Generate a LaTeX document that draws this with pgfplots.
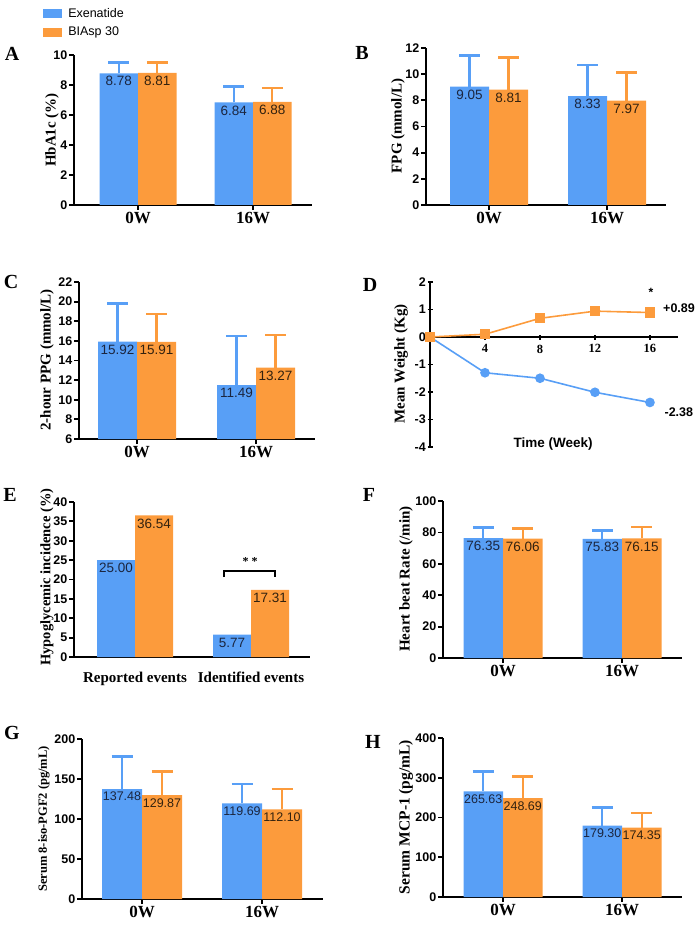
\documentclass[border=0pt]{standalone}
\usepackage{fontspec}
\setmainfont{Liberation Serif}
\setsansfont{Liberation Sans}
\usepackage{pgfplots}
\pgfplotsset{compat=1.18}
\definecolor{cb}{RGB}{88,159,246}
\definecolor{co}{RGB}{252,155,60}
\definecolor{tb}{HTML}{1B2640}
\definecolor{to}{HTML}{33220F}
\newcommand{\fs}[1]{\fontsize{#1}{#1}\selectfont}

\pgfplotsset{
  base/.style={scale only axis, axis line style={line width=1.8pt,-},
    tick style={line width=1.8pt,black}, tick align=outside, major tick length=5pt,
    yticklabel style={font=\sffamily\bfseries\fs{12.5}, inner sep=1.5pt},
    xticklabel style={font=\bfseries\fs{17}, inner sep=2pt},
    /pgf/number format/assume math mode=true},
  barax/.style={base, axis x line*=bottom, axis y line*=left, xmin=0},
  bblue/.style={ybar, bar width=#1pt, bar shift=0pt, fill=cb, draw=none,
    nodes near coords, point meta=explicit symbolic,
    every node near coord/.append style={anchor=north, font=\sffamily\fs{13.5}, text=tb, inner sep=3pt},
    legend image code/.code={\fill[cb] (0pt,-4.5pt) rectangle (19pt,4.5pt);}},
  borange/.style={ybar, bar width=#1pt, bar shift=0pt, fill=co, draw=none,
    nodes near coords, point meta=explicit symbolic,
    every node near coord/.append style={anchor=north, font=\sffamily\fs{13.5}, text=to, inner sep=3pt},
    legend image code/.code={\fill[co] (0pt,-4.5pt) rectangle (19pt,4.5pt);}},
  eb/.style={error bars/y dir=plus, error bars/y explicit,
    error bars/error bar style={line width=2.4pt, #1},
    error bars/error mark options={rotate=90, line width=2.4pt, #1, mark size=10.5pt}},
}

\begin{document}
\begin{tikzpicture}
\useasboundingbox (0,0) rectangle (700pt,-933pt);

% ---------- A ----------
\begin{axis}[barax, at={(74pt,-205pt)}, anchor=south west, width=238pt, height=150pt,
  xmax=238, ymin=0, ymax=10, ytick={0,2,...,10}, xtick={64,179}, xticklabels={0W,16W},
  legend style={at={(axis description cs:-0.13,1.325)}, anchor=north west, draw=none, fill=none,
    inner sep=0pt, font=\sffamily\fs{12.5}, row sep=4pt, column sep=4pt, nodes={inner sep=2pt}},
  legend cell align=left]
\addplot[bblue=38.5, eb=cb] table[x=x,y=y,y error plus=e,meta=l] {
x y e l
44.75 8.78 0.73 8.78
159.75 6.84 1.05 6.84
};
\addlegendentry{Exenatide}
\addplot[borange=38.5, eb=co] table[x=x,y=y,y error plus=e,meta=l] {
x y e l
83.25 8.81 0.70 8.81
198.25 6.88 0.90 6.88
};
\addlegendentry{BIAsp 30}
\end{axis}

% ---------- B ----------
\begin{axis}[barax, at={(426pt,-205pt)}, anchor=south west, width=240pt, height=157pt,
  xmax=240, ymin=0, ymax=12, ytick={0,2,...,12}, xtick={63,181}, xticklabels={0W,16W}]
\addplot[bblue=39, eb=cb] table[x=x,y=y,y error plus=e,meta=l] {
x y e l
43.5 9.05 2.37 9.05
161.5 8.33 2.35 8.33
};
\addplot[borange=39, eb=co] table[x=x,y=y,y error plus=e,meta=l] {
x y e l
82.5 8.81 2.45 8.81
200.5 7.97 2.17 7.97
};
\end{axis}

% ---------- C ----------
\begin{axis}[barax, at={(79pt,-439pt)}, anchor=south west, width=236pt, height=157pt,
  xmax=236, ymin=6, ymax=22, ytick={6,8,...,22}, xtick={58,177}, xticklabels={0W,16W}]
\addplot[bblue=39, eb=cb] table[x=x,y=y,y error plus=e,meta=l] {
x y e l
38.5 15.92 3.88 15.92
157.5 11.49 5.00 11.49
};
\addplot[borange=39, eb=co] table[x=x,y=y,y error plus=e,meta=l] {
x y e l
77.5 15.91 2.81 15.91
196.5 13.27 3.32 13.27
};
\end{axis}

% ---------- D ----------
\begin{axis}[base, at={(430pt,-447pt)}, anchor=south west, width=248pt, height=165pt,
  xmin=0, xmax=18.04, ymin=-4, ymax=2, axis x line=middle, axis y line=left,
  axis line style={line width=1.8pt,-},
  every inner x axis line/.append style={-}, every outer y axis line/.append style={-},
  xtick={4,8,12,16}, ytick={-4,-3,...,2},
  xticklabel style={font=\bfseries\fs{12.5}, yshift=-3pt}, clip=false]
\addplot[cb, line width=1.6pt, mark=*, mark size=4pt, mark options={fill=cb, draw=cb}]
  coordinates {(0,0) (4,-1.30) (8,-1.50) (12,-2.01) (16,-2.38)};
\addplot[co, line width=1.6pt, mark=square*, mark size=4.3pt, mark options={fill=co, draw=co}]
  coordinates {(0,0) (4,0.10) (8,0.68) (12,0.94) (16,0.89)};
\node[font=\sffamily\bfseries\fs{12.5}, anchor=west, inner sep=0pt] at (axis cs:16.95,1.04) {+0.89};
\node[font=\sffamily\bfseries\fs{12.5}, anchor=west, inner sep=0pt] at (axis cs:17.05,-2.74) {-2.38};
\node[font=\sffamily\bfseries\fs{12}, inner sep=0pt] at (axis cs:16.07,1.62) {*};
\node[font=\sffamily\bfseries\fs{13.5}, inner sep=0pt] at (axis cs:8.95,-3.90) {Time (Week)};
\end{axis}

% ---------- E ----------
\begin{axis}[barax, at={(74pt,-657pt)}, anchor=south west, width=236pt, height=155pt,
  xmax=236, ymin=0, ymax=40, ytick={0,5,...,40}, xtick={61,177},
  xticklabels={Reported events,Identified events}, x tick style={draw=none},
  xticklabel style={font=\bfseries\fs{15}, yshift=-8pt}, clip=false]
\addplot[bblue=38] table[x=x,y=y,meta=l] {
x y l
42 25.00 25.00
158 5.77 5.77
};
\addplot[borange=38] table[x=x,y=y,meta=l] {
x y l
80 36.54 36.54
196 17.31 17.31
};
\draw[line width=2pt] (axis cs:150,20.6) -- (axis cs:150,22.2) -- (axis cs:201,22.2) -- (axis cs:201,20.6);
\node[font=\bfseries\fs{12}, inner sep=0pt] at (axis cs:176,24.6) {* *};
\end{axis}

% ---------- F ----------
\begin{axis}[barax, at={(443pt,-658pt)}, anchor=south west, width=239pt, height=157pt,
  xmax=239, ymin=0, ymax=100, ytick={0,20,...,100}, xtick={60,179}, xticklabels={0W,16W}]
\addplot[bblue=39.5, eb=cb] table[x=x,y=y,y error plus=e,meta=l] {
x y e l
40.25 76.35 6.75 76.35
159.25 75.83 5.37 75.83
};
\addplot[borange=39.5, eb=co] table[x=x,y=y,y error plus=e,meta=l] {
x y e l
79.75 76.06 6.44 76.06
198.75 76.15 7.35 76.15
};
\end{axis}

% ---------- G ----------
\begin{axis}[barax, at={(82pt,-899pt)}, anchor=south west, width=241pt, height=160pt,
  xmax=241, ymin=0, ymax=200, ytick={0,50,...,200}, xtick={60,180}, xticklabels={0W,16W}]
\addplot[bblue=40, eb=cb, every node near coord/.append style={font=\sffamily\fs{12.5}}] table[x=x,y=y,y error plus=e,meta=l] {
x y e l
40 137.48 40.5 137.48
160 119.69 23.8 119.69
};
\addplot[borange=40, eb=co, every node near coord/.append style={font=\sffamily\fs{12.5}}] table[x=x,y=y,y error plus=e,meta=l] {
x y e l
80 129.87 29.4 129.87
200 112.10 25.5 112.10
};
\end{axis}

% ---------- H ----------
\begin{axis}[barax, at={(443pt,-897pt)}, anchor=south west, width=239pt, height=159pt,
  xmax=239, ymin=0, ymax=400, ytick={0,100,...,400}, xtick={60,179}, xticklabels={0W,16W}]
\addplot[bblue=39.5, eb=cb, every node near coord/.append style={font=\sffamily\fs{12.5}}] table[x=x,y=y,y error plus=e,meta=l] {
x y e l
40.25 265.63 50.5 265.63
159.25 179.30 46.3 179.30
};
\addplot[borange=39.5, eb=co, every node near coord/.append style={font=\sffamily\fs{12.5}}] table[x=x,y=y,y error plus=e,meta=l] {
x y e l
79.75 248.69 54.9 248.69
198.75 174.35 37.0 174.35
};
\end{axis}

% ---------- panel letters ----------
\foreach \l/\x/\y in {A/12/54, B/362/53, C/11/282, D/370/285, E/10/495, F/369/495, G/12/733, H/373/742}
  \node[font=\bfseries\fs{20}, inner sep=0pt] at (\x pt,-\y pt) {\l};

% ---------- y labels ----------
\node[rotate=90, font=\bfseries\fs{15}, inner sep=0pt] at (52pt,-130pt) {HbA1c (\%)};
\node[rotate=90, font=\bfseries\fs{15}, inner sep=0pt] at (398pt,-126pt) {FPG (mmol/L)};
\node[rotate=90, font=\bfseries\fs{15}, inner sep=0pt] at (47pt,-360pt) {2-hour PPG (mmol/L)};
\node[rotate=90, font=\bfseries\fs{15}, inner sep=0pt] at (401pt,-364pt) {Mean Weight (Kg)};
\node[rotate=90, font=\bfseries\fs{14.5}, inner sep=0pt] at (47pt,-577pt) {Hypoglycemic incidence (\%)};
\node[rotate=90, font=\bfseries\fs{15}, inner sep=0pt] at (406pt,-579pt) {Heart beat Rate (/min)};
\node[rotate=90, font=\bfseries\fs{12.5}, inner sep=0pt] at (44pt,-819pt) {Serum 8-iso-PGF2 (pg/mL)};
\node[rotate=90, font=\bfseries\fs{15.5}, inner sep=0pt] at (406pt,-817pt) {Serum MCP-1 (pg/mL)};
\end{tikzpicture}
\end{document}
